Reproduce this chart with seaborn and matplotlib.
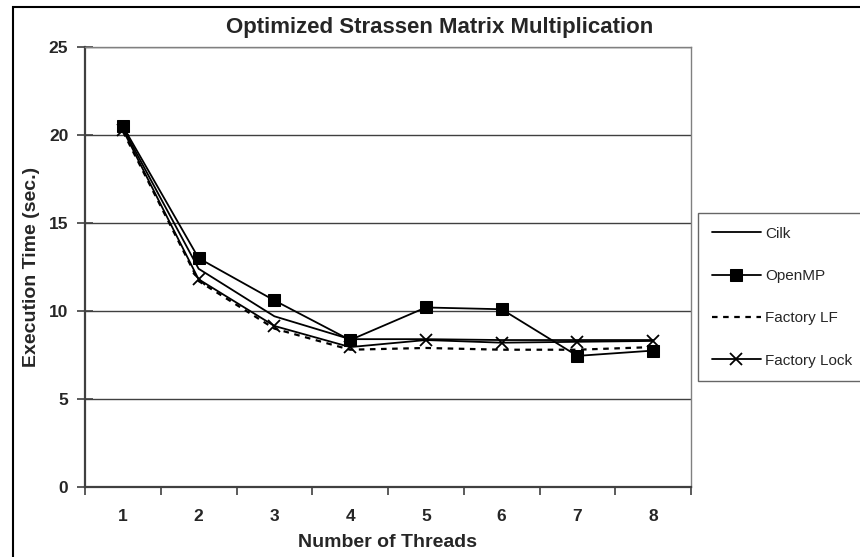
import matplotlib
matplotlib.use("Agg")
import matplotlib.pyplot as plt
from matplotlib.patches import Rectangle
from matplotlib.ticker import FixedLocator, NullFormatter, FixedFormatter
import seaborn as sns
import pandas as pd

threads = [1, 2, 3, 4, 5, 6, 7, 8]
cilk = [20.4, 12.4, 9.7, 8.4, 8.4, 8.35, 8.35, 8.35]
openmp = [20.5, 13.0, 10.6, 8.35, 10.2, 10.1, 7.45, 7.75]
factory_lf = [20.2, 11.7, 9.0, 7.8, 7.9, 7.8, 7.8, 7.95]
factory_lock = [20.3, 11.8, 9.15, 7.95, 8.35, 8.2, 8.25, 8.3]
series_names = ["Cilk", "OpenMP", "Factory LF", "Factory Lock"]
y_ticks = [0, 5, 10, 15, 20, 25]

sns.set_style("white")
plt.rcParams["font.family"] = ["Liberation Sans", "DejaVu Sans"]

fig = plt.figure(figsize=(8.6, 5.57), dpi=100)
ax = fig.add_axes([85 / 860, 70 / 557, (691 - 85) / 860, (487 - 47) / 557])

for yv in y_ticks[1:]:
    ax.axhline(yv, color="#404040", lw=1.0, zorder=0)

styles = {
    "Cilk": dict(marker=None, linestyle="-"),
    "OpenMP": dict(marker="s", linestyle="-", markersize=8),
    "Factory LF": dict(marker=None, linestyle=(0, (2.5, 2.5)), lw=1.6),
    "Factory Lock": dict(marker="x", linestyle="-", markersize=9, markeredgewidth=1.3),
}
values = [cilk, openmp, factory_lf, factory_lock]
for name, vals in zip(series_names, values):
    df = pd.DataFrame({"Threads": threads, "Time": vals})
    kw = dict(styles[name])
    lw = kw.pop("lw", 1.3)
    sns.lineplot(data=df, x="Threads", y="Time", ax=ax, color="black",
                 linewidth=lw, label=name, markeredgecolor="black", **kw)

ax.set_xlim(0.5, 8.5)
ax.set_ylim(0, 25)
ax.xaxis.set_major_locator(FixedLocator([t - 0.5 for t in threads] + [8.5]))
ax.xaxis.set_major_formatter(NullFormatter())
ax.xaxis.set_minor_locator(FixedLocator(threads))
ax.xaxis.set_minor_formatter(FixedFormatter([str(t) for t in threads]))
ax.tick_params(axis="x", which="major", length=6, width=1.2, color="#404040", direction="out", bottom=True)
ax.tick_params(axis="x", which="minor", length=0, pad=16, labelsize=12.5)
ax.set_yticks(y_ticks)
ax.tick_params(axis="y", length=12, width=1.2, color="#404040", direction="inout", left=True, labelsize=12.5, pad=6)
for lab in ax.get_xticklabels(minor=True) + ax.get_yticklabels():
    lab.set_fontweight("bold")

for side in ["left", "bottom"]:
    ax.spines[side].set_color("#404040")
    ax.spines[side].set_linewidth(1.6)
for side in ["top", "right"]:
    ax.spines[side].set_color("#808080")
    ax.spines[side].set_linewidth(1.0)

ax.set_xlabel("Number of Threads", fontsize=14, fontweight="bold", labelpad=7)
ax.set_ylabel("Execution Time (sec.)", fontsize=14, fontweight="bold", labelpad=6)
fig.text(440 / 860, 1 - 27 / 557, "Optimized Strassen Matrix Multiplication",
         ha="center", va="center", fontsize=16, fontweight="bold")

handles, labels = ax.get_legend_handles_labels()
ax.get_legend().remove()
leg = fig.legend(handles, labels, loc="upper left", bbox_to_anchor=(698 / 860, 1 - 213 / 557),
                 frameon=True, fancybox=False, edgecolor="#404040", fontsize=11,
                 handlelength=3.2, labelspacing=1.85, borderpad=0.9, handletextpad=0.3,
                 borderaxespad=0)
leg.get_frame().set_linewidth(1.0)

fig.patches.append(Rectangle((13 / 860, -0.05), 1.2, 1 - 7 / 557 + 0.05,
                             transform=fig.transFigure, fill=False, edgecolor="black",
                             lw=1.5, clip_on=False))

fig.savefig("out.png", dpi=100)
